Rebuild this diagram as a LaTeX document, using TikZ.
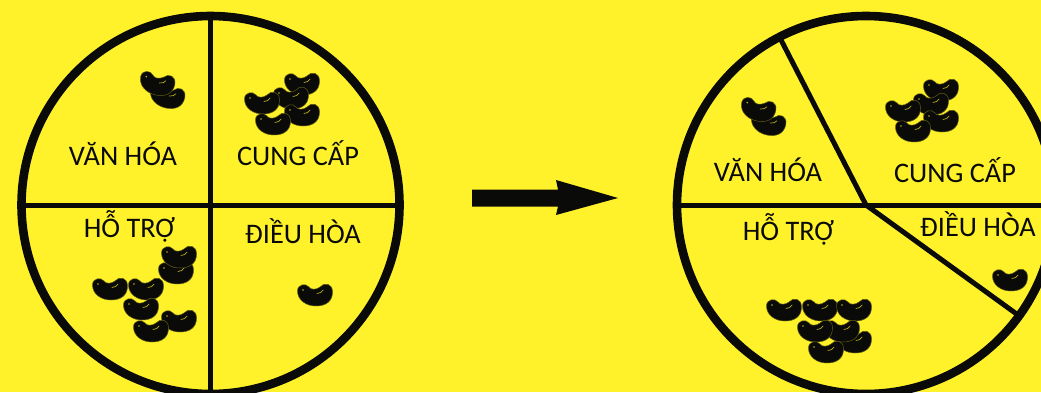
\documentclass[tikz,border=0pt]{standalone}
\usepackage{fontspec}
\setmainfont{Carlito}
\definecolor{bg}{HTML}{FFF22B}
\definecolor{ink}{HTML}{0A0A08}
\tikzset{
  x=1pt,y=-1pt,
  ring/.style={draw=ink,line width=8.6pt},
  divider/.style={draw=ink,line width=5pt},
  lab/.style={anchor=base,font=\fontsize{28.3}{30}\selectfont,text=ink,inner sep=0pt},
  bean/.pic={
    \fill[ink,draw=bg!35!ink,line width=0.5pt] (-17.5,-4) .. controls (-17.5,-11) and (-9,-12) .. (-6,-8)
      .. controls (-4,-5) and (1,-5) .. (5,-8)
      .. controls (9,-13) and (17.5,-12) .. (17.5,-3)
      .. controls (17.5,7) and (10,11) .. (1,11)
      .. controls (-9,11) and (-17.5,5) .. (-17.5,-4) -- cycle;
    \fill[bg!70!ink] (-12,-5) circle (0.9);
    \draw[bg!70!ink,line width=0.7pt,line cap=round] (2,-1.5) .. controls (5,-1.5) and (7,-3) .. (8,-5);
  }
}
\begin{document}
\begin{tikzpicture}
\useasboundingbox (0,0) rectangle (1041,392);
\clip (0,0) rectangle (1041,392);
\fill[bg] (0,0) rectangle (1041,392);
% left chart
\coordinate (lc) at (210.5,205);
\coordinate (lt) at (210.5,16);
\coordinate (lb) at (210.5,392);
\coordinate (ll) at (21,205);
\coordinate (lr) at (400,205);
\draw[divider] (lt) -- (lb);
\draw[divider] (ll) -- (lr);
\draw[ring] (lc) circle (189);
% right chart
\coordinate (rc) at (866,205);
\coordinate (rl) at (680,205);
\coordinate (rr) at (1041,205);
\coordinate (rt) at (780,38);
\coordinate (rb) at (1018,315);
\draw[divider] (rl) -- (rr);
\draw[divider] (rt) -- (rc) -- (rb);
\draw[ring] (rc) circle (189);
% arrow
\fill[ink] (472,189.5) -- (558,189.5) -- (556,180) -- (618,198) -- (556,215) -- (558,206.5) -- (472,206.5) -- cycle;
% labels
\node[lab] (l1) at (123,165) {VĂN HÓA};
\node[lab] (l2) at (298,165) {CUNG CẤP};
\node[lab] (l3) at (129.5,237) {HỖ TRỢ};
\node[lab] (l4) at (303,243) {ĐIỀU HÒA};
\node[lab] (r1) at (768,181) {VĂN HÓA};
\node[lab] (r2) at (955,182) {CUNG CẤP};
\node[lab] (r3) at (788.5,240) {HỖ TRỢ};
\node[lab] (r4) at (978,236) {ĐIỀU HÒA};
% beans left
\pic[rotate=-12] at (167,97) {bean};
\pic[rotate=-12] at (157,84) {bean};
\pic at (302,84) {bean};
\pic at (291,98) {bean};
\pic at (262,103) {bean};
\pic at (302,115) {bean};
\pic at (273,124) {bean};
\pic at (176,273) {bean};
\pic at (179,257) {bean};
\pic at (110,289) {bean};
\pic at (146,289) {bean};
\pic at (141,309) {bean};
\pic at (179,321) {bean};
\pic at (151,331) {bean};
\pic at (315,295) {bean};
% beans right
\pic[rotate=-12] at (768,124) {bean};
\pic[rotate=-12] at (758,110) {bean};
\pic at (941,90) {bean};
\pic at (931,104) {bean};
\pic at (903,111) {bean};
\pic at (941,121) {bean};
\pic at (913,131) {bean};
\pic at (1010,280) {bean};
\pic at (784,310) {bean};
\pic at (820,310) {bean};
\pic at (854,310) {bean};
\pic at (854,342) {bean};
\pic at (842,331) {bean};
\pic at (815,331) {bean};
\pic at (826,352) {bean};
\end{tikzpicture}
\end{document}
